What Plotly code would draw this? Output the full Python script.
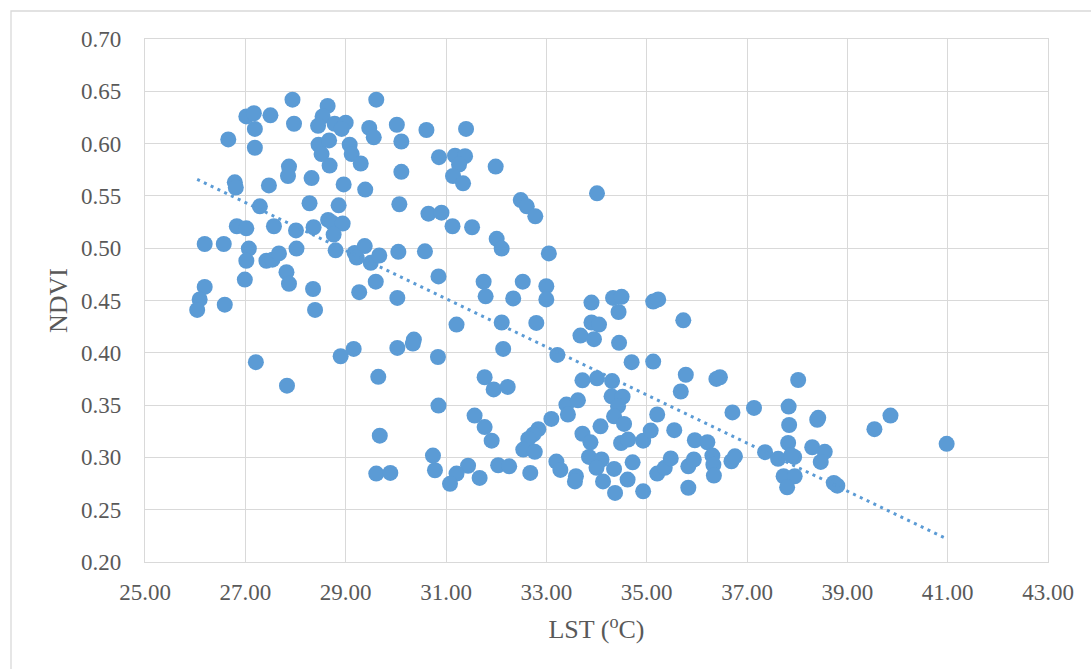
import numpy as np
import plotly.graph_objects as go

# LST (°C) values
lst = [
    27.94, 29.61, 28.64, 27.02, 27.17, 27.50, 28.54, 28.45, 27.97, 28.78,
    29.00, 28.92, 27.19, 29.47, 29.56, 30.02, 30.61, 26.66, 30.11, 28.46,
    28.67, 27.19, 29.08, 28.52, 29.12, 28.68, 29.30, 30.86, 30.11, 27.87,
    27.85, 28.32, 26.79, 26.81, 27.47, 28.96, 29.39, 30.07, 27.29, 28.28,
    28.86, 30.65, 30.91, 28.65, 28.74, 28.94, 28.76, 26.83, 27.02, 27.57,
    28.01, 28.36, 26.19, 26.57, 27.07, 27.02, 28.02, 28.80, 27.42, 27.54,
    27.67, 29.18, 29.38, 29.22, 29.50, 29.67, 30.05, 30.58, 27.82, 27.87,
    26.99, 26.19, 26.09, 26.59, 28.35, 29.27, 29.60, 30.03, 30.85, 28.39,
    26.04,
    31.40, 31.18, 31.38, 31.26, 31.14, 31.34, 31.99, 32.49, 32.61, 32.78,
    34.01, 31.13, 31.52, 32.01, 32.11, 33.05, 31.75, 31.79, 32.53, 33.00,
    32.34, 33.00, 33.90, 34.33, 34.50, 34.44, 35.13, 35.23,
    31.21, 32.11, 32.80, 32.14, 33.22, 33.90, 34.05, 33.68, 33.95, 34.45,
    35.73, 34.70, 35.13, 31.77, 31.95, 32.23, 33.72, 34.01, 34.31, 35.78,
    35.68, 36.39, 36.46, 34.30, 34.52, 34.43, 34.35, 34.55, 33.40, 33.63,
    33.43, 33.10, 35.21, 36.71, 31.57, 31.77, 31.91, 32.84, 32.74, 32.64,
    32.54, 32.77, 33.72, 33.88, 34.08, 34.49, 34.63, 34.93, 35.08, 35.55,
    35.96, 36.21, 31.44, 31.21, 31.08, 31.67, 32.04, 32.26, 32.68, 33.20,
    33.28, 33.59, 33.57, 33.85, 34.10, 34.00, 34.13, 34.35, 34.37, 34.62,
    34.72, 34.93, 35.21, 35.36, 35.48, 35.83, 35.94, 35.83, 36.31, 36.33,
    36.34, 36.69, 36.76,
    27.21, 27.83, 28.90, 29.16, 30.03, 30.36, 30.34, 30.84, 29.65, 30.85,
    29.68, 30.74, 30.78, 29.61, 29.89,
    38.02, 37.83, 37.84, 37.82, 37.14, 38.42, 38.40, 39.54, 39.86, 40.98,
    38.30, 38.55, 38.47, 37.36, 37.62, 37.94, 37.88, 37.73, 37.95, 37.80,
    38.73, 38.80,
]

# NDVI values
ndvi = [
    0.642, 0.642, 0.636, 0.626, 0.629, 0.627, 0.626, 0.617, 0.619, 0.619,
    0.620, 0.614, 0.614, 0.615, 0.606, 0.618, 0.613, 0.604, 0.602, 0.599,
    0.603, 0.596, 0.599, 0.590, 0.590, 0.579, 0.581, 0.587, 0.573, 0.578,
    0.569, 0.567, 0.563, 0.558, 0.560, 0.561, 0.556, 0.542, 0.540, 0.543,
    0.541, 0.533, 0.534, 0.527, 0.524, 0.5235, 0.513, 0.521, 0.519, 0.521,
    0.517, 0.520, 0.504, 0.504, 0.4996, 0.488, 0.4996, 0.498, 0.488, 0.489,
    0.495, 0.4955, 0.502, 0.491, 0.486, 0.493, 0.4965, 0.497, 0.477, 0.466,
    0.470, 0.463, 0.451, 0.446, 0.461, 0.458, 0.468, 0.4525, 0.473, 0.441,
    0.441,
    0.614, 0.5885, 0.588, 0.580, 0.569, 0.562, 0.578, 0.546, 0.540, 0.5305,
    0.5525, 0.521, 0.520, 0.509, 0.4996, 0.495, 0.468, 0.454, 0.468, 0.4636,
    0.452, 0.451, 0.448, 0.4525, 0.4535, 0.439, 0.449, 0.451,
    0.427, 0.429, 0.4286, 0.4037, 0.398, 0.429, 0.427, 0.4165, 0.413, 0.4095,
    0.431, 0.391, 0.3916, 0.3766, 0.365, 0.3674, 0.3737, 0.3756, 0.373, 0.379,
    0.363, 0.375, 0.3766, 0.3584, 0.358, 0.349, 0.3393, 0.332, 0.3505, 0.3546,
    0.341, 0.3368, 0.341, 0.343, 0.340, 0.329, 0.316, 0.327, 0.322, 0.3177,
    0.3075, 0.3053, 0.3226, 0.3144, 0.3297, 0.3138, 0.317, 0.316, 0.3256, 0.326,
    0.3164, 0.3145, 0.292, 0.2845, 0.2747, 0.2804, 0.2925, 0.2915, 0.2852, 0.296,
    0.288, 0.282, 0.277, 0.3005, 0.298, 0.290, 0.277, 0.289, 0.266, 0.2788,
    0.2953, 0.2676, 0.2845, 0.290, 0.299, 0.2915, 0.298, 0.271, 0.3017, 0.293,
    0.2826, 0.2963, 0.301,
    0.391, 0.3686, 0.3967, 0.4037, 0.4047, 0.4126, 0.4088, 0.396, 0.377, 0.3495,
    0.3208, 0.3017, 0.2877, 0.2845, 0.2852,
    0.374, 0.3486, 0.331, 0.3138, 0.3473, 0.3378, 0.336, 0.327, 0.340, 0.313,
    0.3097, 0.3053, 0.2957, 0.305, 0.2986, 0.3005, 0.302, 0.282, 0.282, 0.2714,
    0.2756, 0.273,
]

x_ticks = [25, 27, 29, 31, 33, 35, 37, 39, 41, 43]
y_ticks = [0.20, 0.25, 0.30, 0.35, 0.40, 0.45, 0.50, 0.55, 0.60, 0.65, 0.70]

BLUE = "#5B9BD5"
GRID = "#D9D9D9"
TXT = "#595959"
FONT = "Liberation Serif, Times New Roman, serif"

xa = np.array(lst)
ya = np.array(ndvi)
slope, intercept = np.polyfit(xa, ya, 1)
tx = np.array([xa.min(), xa.max()])
ty = slope * tx + intercept

fig = go.Figure()
fig.add_trace(go.Scatter(
    x=lst, y=ndvi, mode="markers",
    marker=dict(color=BLUE, size=16, line=dict(width=0)),
    showlegend=False, hoverinfo="x+y",
))
fig.add_trace(go.Scatter(
    x=tx, y=ty, mode="lines",
    line=dict(color=BLUE, width=3, dash="3px,4.5px"),
    showlegend=False, hoverinfo="skip",
))

W, H = 1091, 669
L, R, T, B = 145, 43, 39, 107
pw, ph = W - L - R, H - T - B

fig.update_layout(
    width=W, height=H,
    margin=dict(l=L, r=R, t=T, b=B, pad=0),
    paper_bgcolor="white", plot_bgcolor="white",
    font=dict(family=FONT, color=TXT, size=23),
    xaxis=dict(
        range=[25, 43], tickvals=x_ticks, tickformat=".2f",
        showgrid=True, gridcolor=GRID, gridwidth=1.3,
        showline=True, linecolor=GRID, linewidth=1.3, mirror=True,
        zeroline=False, ticks="", ticklabelstandoff=9,
        tickfont=dict(family=FONT, size=23, color=TXT),
        title=dict(text="LST (<sup>o</sup>C)", standoff=16,
                   font=dict(family=FONT, size=26, color=TXT)),
    ),
    yaxis=dict(
        range=[0.2, 0.7], tickvals=y_ticks, tickformat=".2f",
        showgrid=True, gridcolor=GRID, gridwidth=1.3,
        showline=True, linecolor=GRID, linewidth=1.3, mirror=True,
        zeroline=False, ticks="", ticklabelstandoff=18,
        tickfont=dict(family=FONT, size=23, color=TXT),
        title=dict(text="NDVI", standoff=5,
                   font=dict(family=FONT, size=26, color=TXT)),
    ),
    shapes=[dict(
        type="rect", xref="paper", yref="paper",
        x0=(11 - L) / pw, x1=(1100 - L) / pw,
        y0=(H - B - 700) / ph, y1=(H - B - 11) / ph,
        line=dict(color=GRID, width=1.3), fillcolor="rgba(0,0,0,0)",
        layer="below",
    )],
)

fig.write_html("out.html", config={"displayModeBar": False})

# remove the browser's default page margin so the figure sits at (0, 0)
with open("out.html", "r", encoding="utf-8") as f:
    html = f.read()
html = html.replace(
    "<head>",
    "<head><style>html,body{margin:0;padding:0;overflow:hidden;}</style>",
    1,
)
with open("out.html", "w", encoding="utf-8") as f:
    f.write(html)
